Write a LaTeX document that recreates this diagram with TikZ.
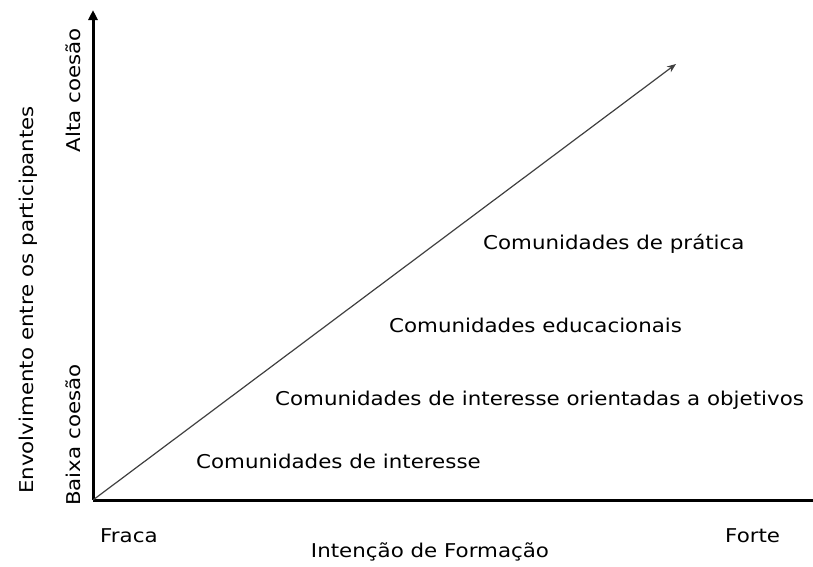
\documentclass[tikz,border=0pt]{standalone}
\usepackage{fontspec}
\setmainfont[FakeStretch=1.125]{DejaVu Sans}
\usetikzlibrary{arrows.meta}
\tikzset{
  lbl/.style={inner sep=0pt, anchor=west, font=\fontsize{19}{21}\selectfont},
  axis/.style={line width=3pt, black},
}
\begin{document}
\begin{tikzpicture}[x=1pt,y=-1pt]
\useasboundingbox (0,0) rectangle (813,566);
  \coordinate (o) at (93,500);
  \coordinate (ytop) at (93,10);
  \coordinate (xend) at (813,500);
  \coordinate (dtop) at (676,64);
  \draw[axis,-{Triangle[length=10pt,width=9pt]}] (o)--(ytop);
  \draw[axis] (o)--(xend);
  \draw[line width=1.2pt,black!75,-{Stealth[length=9pt,width=7pt]}] (o)--(dtop);
  \node[lbl] at (483,244) (pratica) {Comunidades de prática};
  \node[lbl] at (389,325) (educ) {Comunidades educacionais};
  \node[lbl] at (275,400) (orient) {Comunidades de interesse orientadas a objetivos};
  \node[lbl] at (196,461) (inter) {Comunidades de interesse};
  \node[lbl] at (100,536) (fraca) {Fraca};
  \node[lbl] at (725,536) (forte) {Forte};
  \node[lbl,anchor=center] at (430,552) (xlabel) {Intenção de Formação};
  \node[lbl,anchor=center,rotate=90] at (28,300) (ylabel) {Envolvimento entre os participantes};
  \node[lbl,anchor=center,rotate=90] at (73,90) (alta) {Alta coesão};
  \node[lbl,anchor=center,rotate=90] at (73,435) (baixa) {Baixa coesão};
\end{tikzpicture}
\end{document}
